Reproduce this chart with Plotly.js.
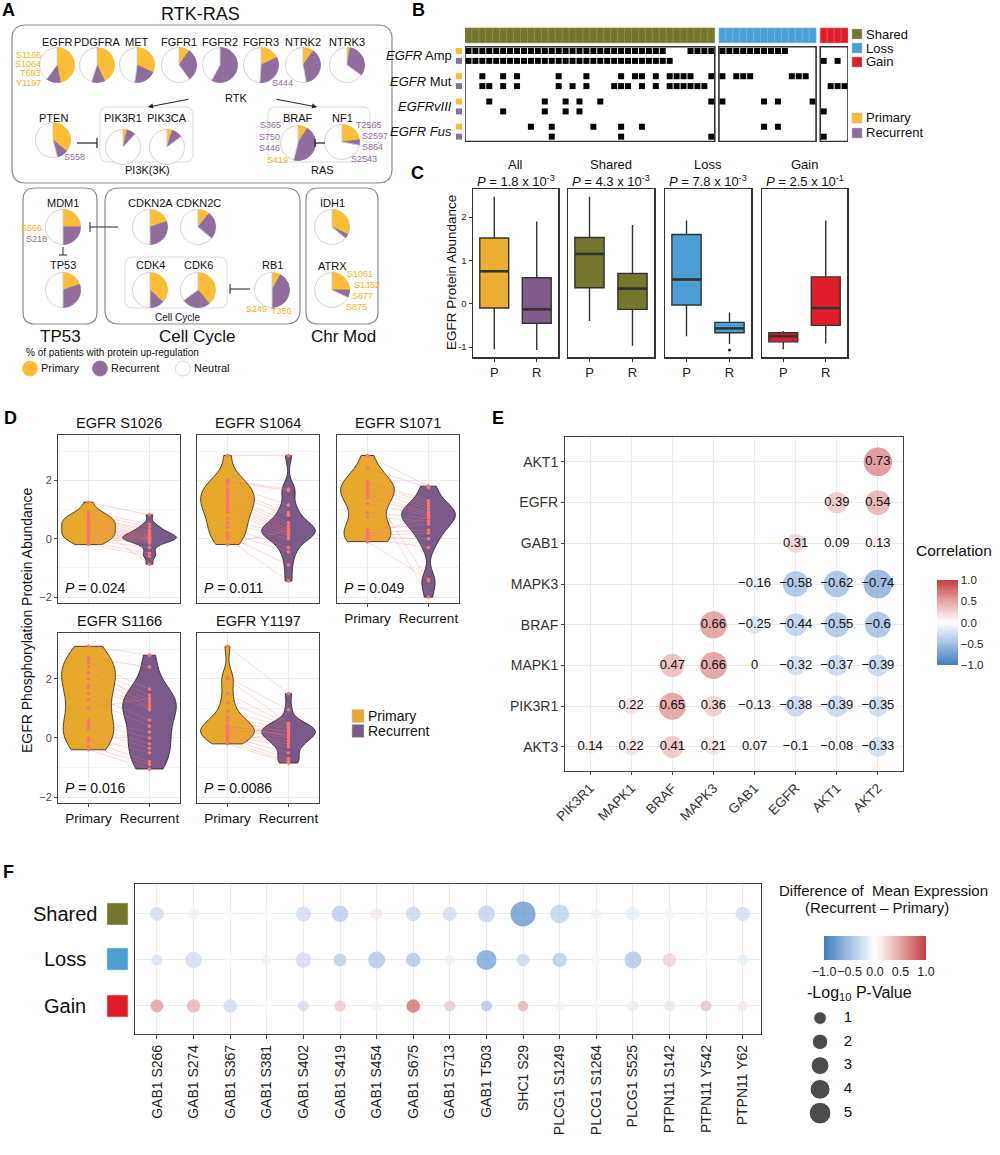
<!DOCTYPE html>
<html><head><meta charset="utf-8">
<script src="https://cdn.plot.ly/plotly-3.0.1.min.js"></script>
<style>html,body{margin:0;padding:0;background:#fff}#chart{width:1000px;height:1155px}</style>
</head><body><div id="chart"></div>
<script>
// ================= DATA =================
// Panel A: % of patients with protein up-regulation (fractions)
const pieGenes = ['EGFR','PDGFRA','MET','FGFR1','FGFR2','FGFR3','NTRK2','NTRK3','PTEN','PIK3R1','PIK3CA','BRAF','NF1','MDM1','TP53','CDKN2A','CDKN2C','CDK4','CDK6','RB1','IDH1','ATRX'];
const piePrimary   = [0.47,0.43,0.32,0.10,0.00,0.18,0.10,0.03,0.36,0.04,0.05,0.09,0.23,0.25,0.20,0.20,0.11,0.37,0.39,0.08,0.32,0.25];
const pieRecurrent = [0.13,0.12,0.20,0.30,0.58,0.33,0.37,0.32,0.10,0.08,0.10,0.45,0.05,0.25,0.30,0.30,0.25,0.13,0.26,0.42,0.04,0.07];

// Panel B: event columns per row (AmpP, AmpR, MutP, MutR, vIIIP, vIIIR, FusP, FusR)
const bGroups = ['Shared','Loss','Gain'];
const bGroupSizes = [36,14,4];
const bRowLabels = ['<i>EGFR</i> Amp','<i>EGFR</i> Mut','<i>EGFRvIII</i>','<i>EGFR Fus</i>'];
const bShared = [
  [0,1,2,3,4,5,6,7,8,9,10,11,12,13,14,15,16,17,18,19,20,21,22,23,24,25,26,27,28,32,33,34,35],
  [0,1,2,3,4,5,6,7,8,9,10,11,12,13,14,15,16,17,18,19,20,21,22,23,24,25,26,27,28,29],
  [2,5,7,13,17,22,24,25,27,29,30,31,32,35],
  [2,3,5,7,13,15,17,21,22,23,25,27,29,30,31,32,33,34],
  [3,11,14,16,19,35],
  [5,11,14,16],
  [9,12,18,22,25],
  [12,22,35]
];
const bLoss = [
  [0,1,2,3,4,5,6,7,8,9], [], [0,2,3,4,10,11,12], [], [0,6,8,13], [], [6,8], []
];
const bGain = [
  [], [0,2], [], [1,2,3], [], [0], [], [0]
];

// Panel C: EGFR protein abundance box statistics [P, R]
const cPanels = ['All','Shared','Loss','Gain'];
const cPvals = ['1.8 x 10<sup>-3</sup>','4.3 x 10<sup>-3</sup>','7.8 x 10<sup>-3</sup>','2.5 x 10<sup>-1</sup>'];
const cLower  = [[-1.05,-1.07],[-0.40,-0.97],[-0.75,-0.93],[-1.05,-0.92]];
const cQ1     = [[-0.10,-0.45],[ 0.37,-0.13],[-0.03,-0.67],[-0.88,-0.50]];
const cMedian = [[ 0.75,-0.13],[ 1.15, 0.35],[ 0.56,-0.57],[-0.75,-0.10]];
const cQ3     = [[ 1.52, 0.60],[ 1.53, 0.70],[ 1.60,-0.43],[-0.67, 0.62]];
const cUpper  = [[ 2.47, 1.90],[ 2.47, 1.82],[ 1.92,-0.20],[-0.63, 1.92]];
const cOutliers = [[[],[]],[[],[]],[[],[-1.07]],[[],[]]];

// Panel D: paired EGFR phosphosite abundance (primary[i] pairs with recurrent[i])
const dSites = ['EGFR S1026','EGFR S1064','EGFR S1071','EGFR S1166','EGFR Y1197'];
const dPvals = ['0.024','0.011','0.049','0.016','0.0086'];
const dPrimary = [
  [1.25,0.92,0.85,0.75,0.70,0.62,0.55,0.50,0.42,0.35,0.30,0.22,0.18,0.12,0.08,0.02,-0.05,-0.12,-0.20,0.60],
  [2.85,2.00,1.95,1.85,1.70,1.60,1.50,1.40,1.30,1.20,1.10,1.00,0.90,0.70,0.55,0.40,0.20,0.10,0.00,-0.20],
  [2.85,2.40,1.95,1.90,1.80,1.70,1.50,1.40,1.20,0.90,0.75,0.30,0.20,0.10,0.05,0.00,-0.10,1.85,1.60,0.15],
  [3.10,2.70,2.55,2.40,2.20,2.00,1.80,1.70,1.50,1.30,0.60,0.50,0.40,0.30,0.00,-0.10,-0.30,-0.40,2.60,1.00],
  [3.10,2.05,2.00,1.50,1.20,0.90,0.70,0.60,0.40,0.30,0.20,0.15,0.10,0.05,0.00,-0.10,-0.20,0.35,0.25,0.45]
];
const dRecurrent = [
  [0.82,0.50,0.40,0.30,0.25,0.20,0.15,0.10,0.08,0.05,0.02,0.00,-0.02,-0.05,-0.10,-0.15,-0.30,-0.50,-0.60,-0.87],
  [2.85,1.70,1.65,1.15,0.90,0.80,0.55,0.45,0.35,0.30,0.25,0.20,0.15,0.10,0.00,-0.30,-0.45,-0.90,-1.45,0.30],
  [1.80,1.75,1.30,1.20,1.10,1.00,0.90,0.85,0.80,0.70,0.60,0.50,0.30,0.20,0.00,-0.30,-1.40,-1.45,-2.00,0.75],
  [2.80,2.40,1.65,1.45,1.30,1.20,1.10,1.00,0.60,0.40,0.20,0.00,-0.20,-0.35,-0.50,-0.80,-0.90,-1.05,0.95,1.35],
  [1.50,0.95,0.50,0.45,0.40,0.35,0.30,0.20,0.10,0.00,-0.10,-0.20,-0.30,-0.50,-0.70,-0.80,-0.85,0.25,0.15,0.05]
];

// Panel E: correlation matrix (rows top->bottom, columns left->right)
const eRows = ['AKT1','EGFR','GAB1','MAPK3','BRAF','MAPK1','PIK3R1','AKT3'];
const eCols = ['PIK3R1','MAPK1','BRAF','MAPK3','GAB1','EGFR','AKT1','AKT2'];
const eVals = [
  [null,null,null,null,null,null,null,0.73],
  [null,null,null,null,null,null,0.39,0.54],
  [null,null,null,null,null,0.31,0.09,0.13],
  [null,null,null,null,-0.16,-0.58,-0.62,-0.74],
  [null,null,null,0.66,-0.25,-0.44,-0.55,-0.6],
  [null,null,0.47,0.66,0,-0.32,-0.37,-0.39],
  [null,0.22,0.65,0.36,-0.13,-0.38,-0.39,-0.35],
  [0.14,0.22,0.41,0.21,0.07,-0.1,-0.08,-0.33]
];

// Panel F: difference of mean expression and -log10 p
const fSites = ['GAB1 S266','GAB1 S274','GAB1 S367','GAB1 S381','GAB1 S402','GAB1 S419','GAB1 S454','GAB1 S675','GAB1 S713','GAB1 T503','SHC1 S29','PLCG1 S1249','PLCG1 S1264','PLCG1 S525','PTPN11 S142','PTPN11 Y542','PTPN11 Y62'];
const fGroups = ['Shared','Loss','Gain'];
const fDiff = [
  [-0.30,-0.10,-0.03,-0.02,-0.30,-0.45,0.15,-0.35,-0.30,-0.40,-0.90,-0.40,-0.10,-0.15,0.07,0.05,-0.30],
  [-0.25,-0.30,-0.02,-0.10,-0.30,-0.45,-0.50,-0.50,-0.12,-0.80,-0.35,-0.45,-0.07,-0.50,0.30,0.01,-0.15],
  [0.60,0.50,-0.30,0.01,-0.30,0.35,0.10,0.85,0.35,-0.50,0.50,-0.10,0.04,-0.15,-0.20,0.40,0.15]
];
const fLogP = [
  [1.45,0.70,0.20,0.20,1.80,2.50,0.80,1.70,1.50,2.60,7.00,3.50,0.60,1.50,0.35,0.20,1.60],
  [0.60,2.40,0.20,0.35,2.00,1.10,2.65,1.60,0.35,4.10,0.95,1.60,0.20,2.65,1.30,0.10,0.50],
  [1.10,1.30,1.30,0.10,0.50,0.60,0.10,1.30,0.50,0.50,0.35,0.10,0.05,0.50,0.50,0.50,0.25]
];
const fSizeLegend = [1,2,3,4,5];

// ================= LAYOUT HELPERS =================
const W = 1000, H = 1155;
const FONT = '"Liberation Sans", Arial, Helvetica, sans-serif';
const px = x => x / W, py = y => 1 - y / H;
const P = (x, y) => px(x).toFixed(5) + ',' + py(y).toFixed(5);
const dx = (a, b) => [px(a), px(b)];
const dy = (top, bot) => [py(bot), py(top)];
function rr(x0, y0, x1, y1, r) {
  return `M${P(x0+r,y0)} L${P(x1-r,y0)} Q${P(x1,y0)} ${P(x1,y0+r)} L${P(x1,y1-r)} Q${P(x1,y1)} ${P(x1-r,y1)} L${P(x0+r,y1)} Q${P(x0,y1)} ${P(x0,y1-r)} L${P(x0,y0+r)} Q${P(x0,y0)} ${P(x0+r,y0)} Z`;
}
function T(x, y, text, size, color, opts) {
  return Object.assign({xref:'paper', yref:'paper', x:px(x), y:py(y), text:text, showarrow:false,
    xanchor:'center', yanchor:'middle', font:{size:size, color:color || '#111', family:FONT}}, opts || {});
}
const COL = {pie1:'#FBBC36', pie2:'#8F6E9E', vio1:'#E6A82A', vio2:'#7A5A88',
  boxP:'#ECAE2E', boxR:'#805C8A', shared:'#74762D', loss:'#4B9FD5', gain:'#E01E2B'};
const divScale = [[0,'#3E7DC0'],[0.25,'#A3C0E2'],[0.5,'#FFFFFF'],[0.75,'#E6A6A6'],[1,'#C43C3F']];

const traces = [], shapes = [], annotations = [];
const layout = {width:W, height:H, margin:{l:0,r:0,t:0,b:0}, showlegend:false,
  paper_bgcolor:'#fff', plot_bgcolor:'#fff', font:{family:FONT, color:'#111'},
  boxmode:'overlay', violinmode:'overlay', hovermode:false};

// ================= PANEL A =================
const piePos = [[57,65,42],[97,65,42],[137,65,42],[179,65,42],[220,65,42],[261,65,42],[303,65,42],[347,65,42],
  [53,140,118],[123,147,118],[167,147,118],[298,143,118],[342,142,118],
  [63,227,203],[63,290,265],[150,227,203],[198,227,203],[150,290,265],[198,290,265],[272,290,265],[332,227,203],[332,290,266]];
const pieR = 17.5;
pieGenes.forEach((g, i) => {
  const [cx, cy, ly] = piePos[i];
  const neu = Math.max(0, 1 - piePrimary[i] - pieRecurrent[i]);
  traces.push({type:'pie', values:[piePrimary[i], pieRecurrent[i], neu], labels:['Primary','Recurrent','Neutral'],
    sort:false, direction:'clockwise', rotation:0, textinfo:'none', hoverinfo:'none',
    marker:{colors:[COL.pie1, COL.pie2, '#FFFFFF'], line:{color:[COL.pie1, COL.pie2, '#CFCFCF'], width:0.9}},
    domain:{x:dx(cx-pieR, cx+pieR), y:dy(cy-pieR, cy+pieR)}, showlegend:false});
  annotations.push(T(cx, ly, g, 11, '#111'));
});
// group boxes
[[12,25,392,183,14,'#8a8a8a',1.2],[100,107,193,162,8,'#dddddd',1],[268,107,370,162,8,'#dddddd',1],
 [23,188,97,324,12,'#8a8a8a',1.2],[105,188,300,324,14,'#8a8a8a',1.2],[125,257,227,308,8,'#dddddd',1],
 [306,188,378,324,12,'#8a8a8a',1.2]].forEach(b => {
  shapes.push({type:'path', xref:'paper', yref:'paper', path:rr(b[0],b[1],b[2],b[3],b[4]), line:{color:b[5], width:b[6]}, layer:'below'});
});
function L(x0,y0,x1,y1,w){ shapes.push({type:'line', xref:'paper', yref:'paper', x0:px(x0), y0:py(y0), x1:px(x1), y1:py(y1), line:{color:'#222', width:w||1}}); }
// inhibition lines
L(77,143,97,143,1.2); L(97,138,97,148,1.2);
L(315,143,325,143,1.2); L(315,139,315,147,1.2);
L(90,227,118,227,1); L(90,222,90,232,1);
L(63,247,63,255,1); L(59,255,67,255,1);
L(230,289,250,289,1); L(230,284,230,294,1);
// arrows
annotations.push({xref:'paper', yref:'paper', x:px(148), y:py(107), ax:42, ay:-8, showarrow:true, arrowhead:2, arrowsize:1, arrowwidth:1, arrowcolor:'#222', text:''});
annotations.push({xref:'paper', yref:'paper', x:px(317), y:py(107), ax:-42, ay:-8, showarrow:true, arrowhead:2, arrowsize:1, arrowwidth:1, arrowcolor:'#222', text:''});
annotations.push(T(200, 14, 'RTK-RAS', 18, '#111'));
annotations.push(T(236, 98, 'RTK', 11));
annotations.push(T(147, 170, 'PI3K(3K)', 11));
annotations.push(T(322, 170, 'RAS', 11));
annotations.push(T(177, 317, 'Cell Cycle', 10));
annotations.push(T(60, 336, 'TP53', 17));
annotations.push(T(197, 336, 'Cell Cycle', 17));
annotations.push(T(343, 336, 'Chr Mod', 17));
annotations.push(T(24, 352, '% of patients with protein up-regulation', 10, '#111', {xanchor:'left'}));
[[30,COL.pie1,'Primary'],[100,COL.pie2,'Recurrent'],[183,'#FFFFFF','Neutral']].forEach(l => {
  shapes.push({type:'circle', xref:'paper', yref:'paper', x0:px(l[0]-7.5), x1:px(l[0]+7.5), y0:py(376), y1:py(361),
    fillcolor:l[1], line:{color:l[1]==='#FFFFFF'?'#d0d0d0':l[1], width:0.8}});
  annotations.push(T(l[0]+9, 368, l[2], 11, '#111', {xanchor:'left'}));
});
const YL = '#F5B325', PU = '#8F6E9E';
[['S1166',43,55,YL,'right'],['S1064',43,64,YL,'right'],['T693',43,73,YL,'right'],['Y1197',43,83,YL,'right'],
 ['S444',282,83,PU,'center'],['S558',74,157,PU,'center'],
 ['S365',283,125,PU,'right'],['S750',282,137,PU,'right'],['S446',282,148,PU,'right'],['S419',290,160,YL,'right'],
 ['T2565',354,125,PU,'left'],['S2597',360,136,PU,'left'],['S864',360,147,PU,'left'],['S2543',349,159,PU,'left'],
 ['S566',44,228,YL,'right'],['S218',49,239,PU,'right'],['S249',256,309,YL,'center'],['T356',281,311,YL,'center'],
 ['S1061',345,274,YL,'left'],['S1352',352,285,YL,'left'],['S677',350,296,YL,'left'],['S875',344,307,YL,'left']
].forEach(s => annotations.push(T(s[1], s[2], s[0], 9, s[3], {xanchor:s[4]})));

// ================= PANEL B =================
const bColors = [COL.shared, COL.loss, COL.gain];
const bLine = ['#8E8F45','#6DB6E2','#EC5058'];
const bData = [bShared, bLoss, bGain];
const gap = 0.6;
const bOffsets = [0, bGroupSizes[0] + gap, bGroupSizes[0] + bGroupSizes[1] + 2*gap];
const rowY = r => Math.floor(r/2) * 2.55 + (r % 2);
const bx = [], by = [];
bData.forEach((grp, g) => grp.forEach((cols, r) => cols.forEach(c => { bx.push(bOffsets[g] + c); by.push(rowY(r)); })));
traces.push({type:'scatter', mode:'markers', x:bx, y:by, xaxis:'x12', yaxis:'y12',
  marker:{symbol:'square', size:6, color:'#000'}, hoverinfo:'skip'});
layout.xaxis12 = {domain:dx(465,848), range:[-0.5, bOffsets[2] + bGroupSizes[2] - 0.5], visible:false, anchor:'y12', fixedrange:true};
layout.yaxis12 = {domain:dy(27,142), range:[9.19,-2.42], visible:false, anchor:'x12', fixedrange:true};
bGroups.forEach((g, gi) => {
  for (let i = 0; i < bGroupSizes[gi]; i++) {
    shapes.push({type:'rect', xref:'x12', yref:'y12', x0:bOffsets[gi]+i-0.5, x1:bOffsets[gi]+i+0.5, y0:-2.32, y1:-0.82,
      fillcolor:bColors[gi], line:{color:bLine[gi], width:0.6}});
  }
  shapes.push({type:'rect', xref:'x12', yref:'y12', x0:bOffsets[gi]-0.5, x1:bOffsets[gi]+bGroupSizes[gi]-0.5, y0:-0.42, y1:9.15,
    line:{color:'#333', width:1.6}});
});
bRowLabels.forEach((lab, p) => {
  annotations.push({xref:'paper', yref:'y12', x:px(454), y:p*2.55+0.5, text:lab, showarrow:false, xanchor:'right', yanchor:'middle',
    font:{size:13, color:'#111', family:FONT}});
  [0,1].forEach(m => shapes.push({type:'rect', xref:'paper', yref:'y12', x0:px(456), x1:px(462), y0:p*2.55+m-0.3, y1:p*2.55+m+0.3,
    fillcolor:m ? COL.pie2 : COL.pie1, line:{width:0}}));
});
[[34,COL.shared,'Shared'],[48,COL.loss,'Loss'],[62,COL.gain,'Gain'],[118,COL.pie1,'Primary'],[133,COL.pie2,'Recurrent']].forEach(l => {
  shapes.push({type:'rect', xref:'paper', yref:'paper', x0:px(852), x1:px(862), y0:py(l[0]+5), y1:py(l[0]-5), fillcolor:l[1], line:{color:'#bbb', width:0.5}});
  annotations.push(T(864, l[0], l[2], 13, '#111', {xanchor:'left'}));
});

// ================= PANEL C =================
const cX = [[473,558],[568,654],[665,751],[762,847]];
const cFill = [[COL.boxP, COL.boxR],[COL.shared, COL.shared],[COL.loss, COL.loss],[COL.gain, COL.gain]];
const boxW = 0.68;
cPanels.forEach((name, k) => {
  const n = k + 1, xa = 'x' + (n === 1 ? '' : n), ya = 'y' + (n === 1 ? '' : n);
  ['P','R'].forEach((cat, j) => {
    traces.push({type:'box', x:[cat], q1:[cQ1[k][j]], median:[cMedian[k][j]], q3:[cQ3[k][j]],
      lowerfence:[cLower[k][j]], upperfence:[cUpper[k][j]], xaxis:xa, yaxis:ya,
      fillcolor:cFill[k][j], line:{color:'#333', width:1.4}, whiskerwidth:0, width:boxW, boxpoints:false, hoverinfo:'skip'});
    if (cOutliers[k][j].length) traces.push({type:'scatter', mode:'markers', x:cOutliers[k][j].map(() => cat), y:cOutliers[k][j],
      xaxis:xa, yaxis:ya, marker:{size:3, color:'#222'}, hoverinfo:'skip'});
    // thicker median bar (ggplot style)
    shapes.push({type:'line', xref:xa, yref:ya, x0:j - boxW/2, x1:j + boxW/2, y0:cMedian[k][j], y1:cMedian[k][j], line:{color:'#333', width:2.6}});
  });
  layout['xaxis' + (n === 1 ? '' : n)] = {domain:dx(cX[k][0], cX[k][1]), anchor:ya, type:'category', categoryorder:'array', categoryarray:['P','R'],
    range:[-0.5,1.5], showline:true, mirror:true, linecolor:'#333', linewidth:1.5, showgrid:false, ticks:'outside', ticklen:3,
    tickcolor:'#333', tickfont:{size:13, color:'#222'}, fixedrange:true};
  layout['yaxis' + (n === 1 ? '' : n)] = {domain:dy(189,357), anchor:xa, range:[-1.23,2.65], tickvals:[-1,0,1,2], ticktext:['-1','0','1','2'],
    showline:true, mirror:true, linecolor:'#333', linewidth:1.5, showgrid:false, zeroline:false, ticks:k===0?'outside':'', ticklen:3,
    tickcolor:'#333', showticklabels:k===0, tickfont:{size:9.5, color:'#222'}, fixedrange:true};
  const cx = (cX[k][0] + cX[k][1]) / 2;
  annotations.push(T(cx, 165, name, 13));
  annotations.push(T(cx, 181, '<i>P</i> = ' + cPvals[k], 13));
});
annotations.push(T(452, 273, 'EGFR Protein Abundance', 13.5, '#111', {textangle:-90}));

// ================= PANEL D =================
function nrd0(a) {
  const n = a.length, m = a.reduce((s, v) => s + v, 0) / n;
  const sd = Math.sqrt(a.reduce((s, v) => s + (v - m) ** 2, 0) / (n - 1));
  const s = [...a].sort((x, y) => x - y);
  const q = p => { const h = (n - 1) * p, l = Math.floor(h); return s[l] + (h - l) * (s[Math.min(l + 1, n - 1)] - s[l]); };
  let lo = Math.min(sd, (q(0.75) - q(0.25)) / 1.34); if (!(lo > 0)) lo = sd;
  return 0.9 * lo * Math.pow(n, -0.2);
}
const dBoxes = [[58,180,435,603],[197,319,435,603],[337,459,435,603],[58,180,633,803],[197,319,633,803]];
dSites.forEach((site, k) => {
  const n = 5 + k, xa = 'x' + n, ya = 'y' + n, b = dBoxes[k];
  const pr = dPrimary[k], re = dRecurrent[k];
  traces.push({type:'violin', x:pr.map(() => 'Primary'), y:pr, xaxis:xa, yaxis:ya, fillcolor:COL.vio1, line:{color:'#222', width:0.8},
    points:false, spanmode:'hard', bandwidth:nrd0(pr), width:0.88, scalemode:'width', box:{visible:false}, meanline:{visible:false}, hoverinfo:'skip', opacity:1});
  traces.push({type:'violin', x:re.map(() => 'Recurrent'), y:re, xaxis:xa, yaxis:ya, fillcolor:COL.vio2, line:{color:'#222', width:0.8},
    points:false, spanmode:'hard', bandwidth:nrd0(re), width:0.88, scalemode:'width', box:{visible:false}, meanline:{visible:false}, hoverinfo:'skip', opacity:1});
  const lx = [], ly = [];
  pr.forEach((v, i) => { lx.push('Primary', 'Recurrent', null); ly.push(v, re[i], null); });
  traces.push({type:'scatter', mode:'lines', x:lx, y:ly, xaxis:xa, yaxis:ya, line:{color:'rgba(248,118,109,0.4)', width:0.7}, hoverinfo:'skip', connectgaps:false});
  traces.push({type:'scatter', mode:'markers', x:pr.map(() => 'Primary').concat(re.map(() => 'Recurrent')), y:pr.concat(re),
    xaxis:xa, yaxis:ya, marker:{size:3.6, color:'#F8766D'}, hoverinfo:'skip'});
  const bottomRow = (k === 2 || k >= 3), leftCol = (k === 0 || k === 3);
  layout['xaxis' + n] = {domain:dx(b[0], b[1]), anchor:ya, type:'category', categoryorder:'array', categoryarray:['Primary','Recurrent'],
    range:[-0.5,1.5], showgrid:true, gridcolor:'#EBEBEB', gridwidth:1, showline:true, mirror:true, linecolor:'#444', linewidth:1,
    ticks:bottomRow?'outside':'', ticklen:3, tickcolor:'#444', showticklabels:bottomRow, tickfont:{size:13.5, color:'#111'}, fixedrange:true};
  layout['yaxis' + n] = {domain:dy(b[2], b[3]), anchor:xa, range:[-2.2,3.55], tick0:0, dtick:2, showgrid:true, gridcolor:'#EBEBEB',
    minor:{dtick:1, tick0:0, showgrid:true, gridcolor:'#F4F4F4', ticks:''}, zeroline:false, showline:true, mirror:true, linecolor:'#444', linewidth:1,
    ticks:leftCol?'outside':'', ticklen:3, tickcolor:'#444', showticklabels:leftCol, tickfont:{size:11, color:'#4d4d4d'}, fixedrange:true};
  annotations.push(T((b[0] + b[1]) / 2, b[2] - 12, site, 14.5));
  annotations.push(T(b[0] + 5, b[3] - 15, '<i>P</i> = ' + dPvals[k], 14, '#111', {xanchor:'left'}));
});
annotations.push(T(27, 620, 'EGFR Phosphorylation Protein Abundance', 14, '#111', {textangle:-90}));
[[716,COL.vio1,'Primary'],[731,COL.vio2,'Recurrent']].forEach(l => {
  shapes.push({type:'rect', xref:'paper', yref:'paper', x0:px(352), x1:px(364), y0:py(l[0]+6.5), y1:py(l[0]-6.5), fillcolor:l[1], line:{color:'#ccc', width:0.5}});
  annotations.push(T(366, l[0], l[2], 14, '#111', {xanchor:'left'}));
});

// ================= PANEL E =================
const ex = [], ey = [], ec = [], es = [], et = [];
eRows.forEach((r, i) => eCols.forEach((c, j) => {
  const v = eVals[i][j];
  if (v === null) return;
  ex.push(c); ey.push(r); ec.push(v); es.push(31 * Math.sqrt(Math.abs(v)) + 2);
  et.push(String(v).replace('-', '\u2212'));
}));
traces.push({type:'scatter', mode:'markers+text', x:ex, y:ey, xaxis:'x10', yaxis:'y10', text:et, textposition:'middle center',
  textfont:{size:13, color:'#111', family:FONT}, hoverinfo:'skip',
  marker:{size:es, color:ec, colorscale:divScale, cmin:-1, cmax:1, line:{width:0}, showscale:true,
    colorbar:{x:px(927), xanchor:'left', y:py(570), yanchor:'top', len:105, lenmode:'pixels', thickness:21, thicknessmode:'pixels',
      outlinewidth:0, tickvals:[-1,-0.5,0,0.5,1], ticktext:['\u22121.0','\u22120.5','0.0','0.5','1.0'], ticks:'',
      tickfont:{size:11.5, color:'#222', family:FONT}}}});
layout.xaxis10 = {domain:dx(565,903), anchor:'y10', type:'category', categoryorder:'array', categoryarray:eCols, range:[-0.61,7.61],
  showgrid:true, gridcolor:'#EBEBEB', showline:true, mirror:true, linecolor:'#444', linewidth:1, ticks:'outside', ticklen:3, tickcolor:'#444',
  tickangle:-45, tickfont:{size:13.5, color:'#333'}, fixedrange:true};
layout.yaxis10 = {domain:dy(437,771), anchor:'x10', type:'category', categoryorder:'array', categoryarray:[...eRows].reverse(), range:[-0.59,7.61],
  showgrid:true, gridcolor:'#EBEBEB', showline:true, mirror:true, linecolor:'#444', linewidth:1, ticks:'outside', ticklen:3, tickcolor:'#444',
  tickfont:{size:14, color:'#333'}, fixedrange:true};
annotations.push(T(954, 550, 'Correlation', 15.5));

// ================= PANEL F =================
const fSize = v => Math.sqrt(83.5 + 77.5 * v);
const fx = [], fy = [], fc = [], fs = [];
fGroups.forEach((g, i) => fSites.forEach((s, j) => { fx.push(s); fy.push(g); fc.push(fDiff[i][j]); fs.push(fSize(fLogP[i][j])); }));
traces.push({type:'scatter', mode:'markers', x:fx, y:fy, xaxis:'x11', yaxis:'y11', hoverinfo:'skip',
  marker:{size:fs, color:fc, colorscale:divScale, cmin:-1, cmax:1, line:{width:0}, showscale:true,
    colorbar:{orientation:'h', x:px(814), xanchor:'left', y:py(926), yanchor:'top', len:122, lenmode:'pixels', thickness:24, thicknessmode:'pixels',
      outlinewidth:0, tickvals:[-1,-0.5,0,0.5,1], ticktext:['\u22121.0','\u22120.5','0.0','0.5','1.0'], ticks:'', tickangle:0,
      tickfont:{size:12.5, color:'#222', family:FONT}}}});
layout.xaxis11 = {domain:dx(135,761), anchor:'y11', type:'category', categoryorder:'array', categoryarray:fSites, range:[-0.6,16.5],
  showgrid:true, gridcolor:'#EBEBEB', showline:true, mirror:true, linecolor:'#444', linewidth:1.3, ticks:'outside', ticklen:4, tickcolor:'#444',
  tickangle:-90, tickfont:{size:14, color:'#222'}, fixedrange:true};
layout.yaxis11 = {domain:dy(884,1034), anchor:'x11', type:'category', categoryorder:'array', categoryarray:[...fGroups].reverse(), range:[-0.61,2.65],
  showgrid:true, gridcolor:'#EBEBEB', showline:true, mirror:true, linecolor:'#444', linewidth:1.3, ticks:'', showticklabels:false, fixedrange:true};
[[914,COL.shared,'Shared'],[959,COL.loss,'Loss'],[1006,COL.gain,'Gain']].forEach(l => {
  annotations.push(T(65, l[0], l[2], 20, '#111'));
  shapes.push({type:'rect', xref:'paper', yref:'paper', x0:px(107), x1:px(128), y0:py(l[0]+11), y1:py(l[0]-11), fillcolor:l[1], line:{color:'#ddd', width:0.5}});
});
traces.push({type:'scatter', mode:'markers', x:fSizeLegend.map(() => 0), y:fSizeLegend, xaxis:'x13', yaxis:'y13',
  marker:{size:fSizeLegend.map(fSize), color:'#000'}, hoverinfo:'skip'});
traces.push({type:'scatter', mode:'text', x:fSizeLegend.map(() => 1), y:fSizeLegend, text:fSizeLegend.map(String), xaxis:'x13', yaxis:'y13',
  textfont:{size:15, color:'#111', family:FONT}, textposition:'middle center', hoverinfo:'skip'});
layout.xaxis13 = {domain:dx(805,870), anchor:'y13', range:[-0.54,1.79], visible:false, fixedrange:true};
layout.yaxis13 = {domain:dy(1005,1125), anchor:'x13', range:[5.5,0.45], visible:false, fixedrange:true};
annotations.push(T(883, 890, 'Difference of  Mean Expression', 15));
annotations.push(T(877, 907, '(Recurrent \u2013 Primary)', 15));
annotations.push(T(859, 993, '-Log<sub>10</sub> P-Value', 16));

// panel letters
[['A',8,10],['B',418,10],['C',417,173],['D',10,418],['E',498,418],['F',8,872]].forEach(l =>
  annotations.push(T(l[1], l[2], '<b>' + l[0] + '</b>', 18, '#000')));

layout.shapes = shapes;
layout.annotations = annotations;
Plotly.newPlot('chart', traces, layout, {staticPlot:true, displayModeBar:false});
</script>
</body></html>
